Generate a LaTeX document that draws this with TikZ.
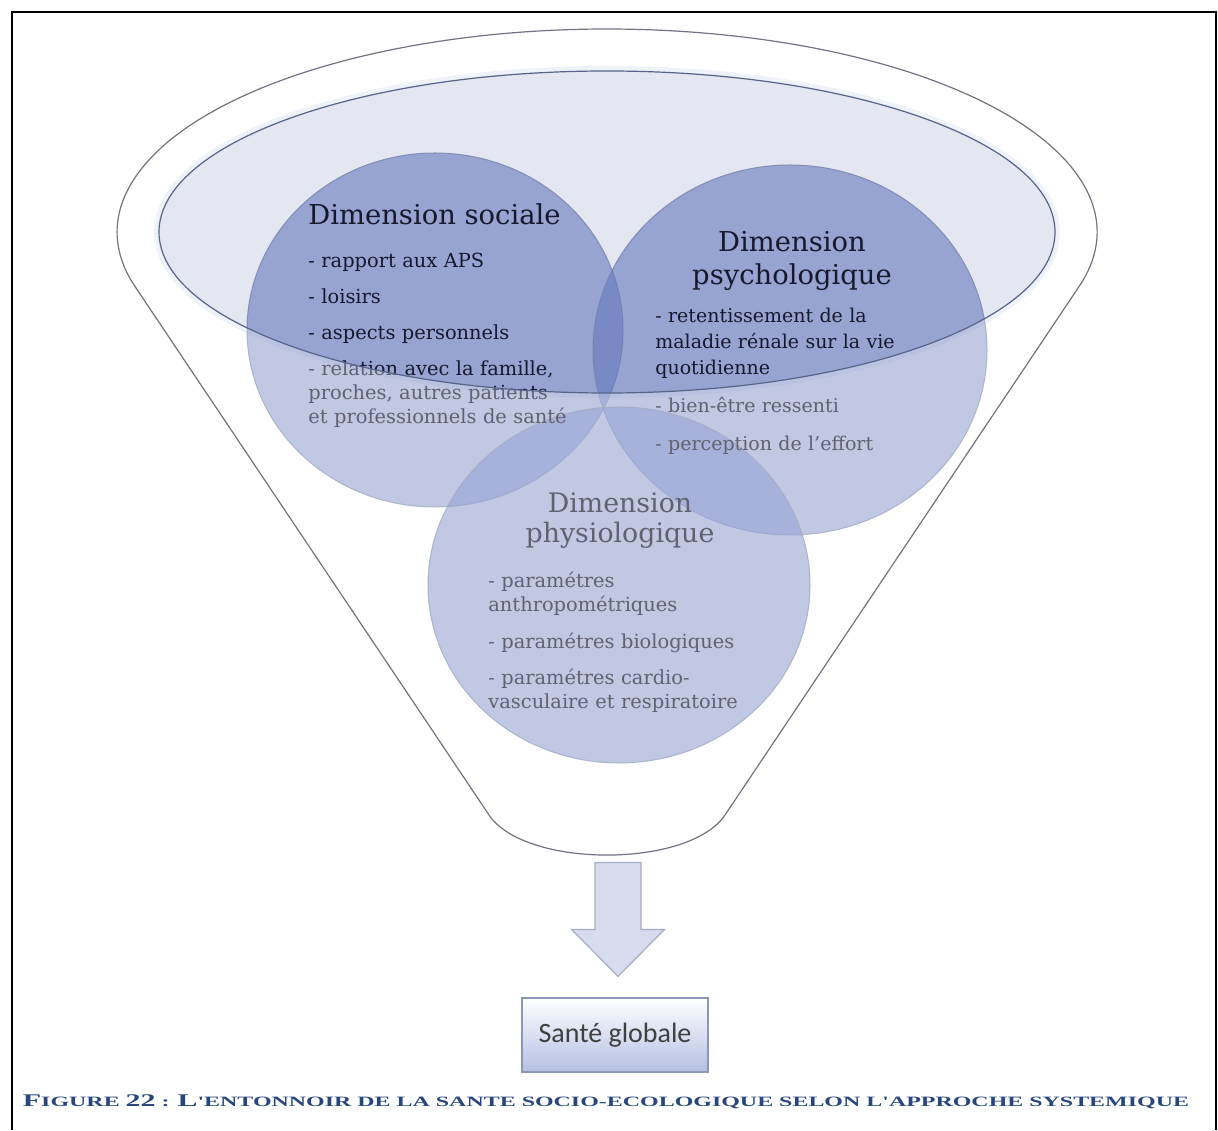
\documentclass[tikz,border=0pt]{standalone}
\usepackage{fontspec}
\setmainfont{DejaVu Serif}
\newfontfamily\boxfont{Carlito}
\newfontfamily\capfont{Liberation Serif}
\usepackage{graphicx}
\usepackage{xcolor}
\usetikzlibrary{shapes.geometric, positioning}

\definecolor{rimgray}{RGB}{112,116,130}
\definecolor{lidfill}{RGB}{228,231,242}
\definecolor{lidgray}{RGB}{86,100,136}
\definecolor{halo}{RGB}{232,237,247}
\definecolor{dimblue}{RGB}{100,120,190}
\definecolor{dimgray}{RGB}{118,130,168}
\definecolor{dimtext}{RGB}{22,24,44}
\definecolor{arrowfill}{RGB}{214,219,238}
\definecolor{arrowgray}{RGB}{166,172,196}
\definecolor{boxgray}{RGB}{141,151,181}
\definecolor{boxbottom}{RGB}{180,192,228}
\definecolor{captionblue}{RGB}{40,70,125}

\tikzstyle{frameline} = [black, line width=1pt]
\tikzstyle{rimline} = [draw=rimgray, line width=0.6pt]
\tikzstyle{lidline} = [draw=lidgray, line width=0.6pt]
\tikzstyle{veil} = [fill=white, fill opacity=0.32]
\tikzstyle{dimcircle} = [ellipse, inner sep=0pt, fill=dimblue, fill opacity=0.6, draw=dimgray, draw opacity=0.8, line width=0.5pt]
\tikzstyle{dimtitle} = [inner sep=0pt, text=dimtext, font=\fontsize{13.7}{16.5}\selectfont]
\tikzstyle{dimitems} = [inner sep=0pt, text=dimtext, align=left, anchor=base west, font=\fontsize{9.7}{12}\selectfont]
\tikzstyle{blockarrow} = [fill=arrowfill, draw=arrowgray, line width=0.6pt, line join=miter]
\tikzstyle{resultbox} = [rectangle, minimum width=93pt, minimum height=37pt, top color=white, bottom color=boxbottom, draw=boxgray, line width=0.6pt, text=black!75, font=\boxfont\fontsize{14}{14}\selectfont]

\newcommand{\capbig}[1]{{\fontsize{11}{11}\selectfont #1}}

\begin{document}
\begin{tikzpicture}[x=0.5pt, y=0.5pt]
\useasboundingbox (0,0) rectangle (1218,1130);
\draw [frameline] (12,0) -- (12,1118) -- (1216,1118) -- (1216,0);

\coordinate (rimL) at (134.8,843.7);
\coordinate (rimR) at (1079.2,843.7);
\coordinate (bowlL) at (489,315);
\coordinate (bowlR) at (725,315);
\coordinate (lid) at (607,898);

\draw [halo, line width=5pt] (lid) ellipse [x radius=448, y radius=161];
\fill [lidfill] (lid) ellipse [x radius=448, y radius=161];

\node (social) [dimcircle, minimum width=188pt, minimum height=177pt] at (435,800) {};
\node (psycho) [dimcircle, minimum width=197pt, minimum height=185pt] at (790,780) {};
\node (physio) [dimcircle, minimum width=191pt, minimum height=178pt] at (619,545) {};

\node (socialtitle) [dimtitle, anchor=base west] at (308,905) {Dimension sociale};
\node (socialitems) [dimitems, text width=135pt] at (308,862) {- rapport aux APS\\[6pt] - loisirs\\[6pt] - aspects personnels\\[6pt] \makebox[128.5pt][s]{- relation avec la famille,}\\ \makebox[128.5pt][s]{proches, autres patients}\\ \makebox[128.5pt][s]{et professionnels de santé}};

\node (psychotitle) [dimtitle, anchor=base, text width=120pt, align=center] at (792,878) {Dimension\\psychologique};
\node (psychoitems) [dimitems, text width=130pt, font=\fontsize{9.5}{13}\selectfont] at (655,807) {- retentissement de la\\ maladie rénale sur la vie\\ quotidienne\\[6pt] - bien-être ressenti\\[6pt] - perception de l'effort};

\node (physiotitle) [dimtitle, anchor=base, text width=120pt, align=center, font=\fontsize{13.4}{15}\selectfont] at (620,617) {Dimension\\physiologique};
\node (physioitems) [dimitems, text width=135pt] at (488,542) {- paramétres\\ anthropométriques\\[6pt] - paramétres biologiques\\[6pt] - paramétres cardio-\\ vasculaire et respiratoire};

\fill [veil, even odd rule] (rimR) arc [start angle=-15.5, end angle=195.5, x radius=490, y radius=203] -- (bowlL) to [out=-56, in=-124, looseness=0.7] (bowlR) -- cycle (lid) ellipse [x radius=448, y radius=161];
\draw [rimline] (rimR) arc [start angle=-15.5, end angle=195.5, x radius=490, y radius=203] -- (bowlL) to [out=-56, in=-124, looseness=0.7] (bowlR) -- cycle;
\draw [lidline] (lid) ellipse [x radius=448, y radius=161];

\node (result) [resultbox] at (615,95) {Santé globale};
\coordinate (spout) at ([xshift=1.5pt, yshift=10.5pt]result.north);
\draw [blockarrow] (spout) -- ++(-46.5,47) -- ++(23.5,0) -- ++(0,67) -- ++(46,0) -- ++(0,-67) -- ++(23.5,0) -- cycle;

\node (caption) [text=captionblue, font=\capfont\bfseries] at (606,28) {\resizebox{583pt}{5.9pt}{\fontsize{8.8}{8.8}\selectfont\capbig{F}IGURE \capbig{22} : \capbig{L}'ENTONNOIR DE LA SANTE SOCIO-ECOLOGIQUE SELON L'APPROCHE SYSTEMIQUE}};
\end{tikzpicture}
\end{document}
